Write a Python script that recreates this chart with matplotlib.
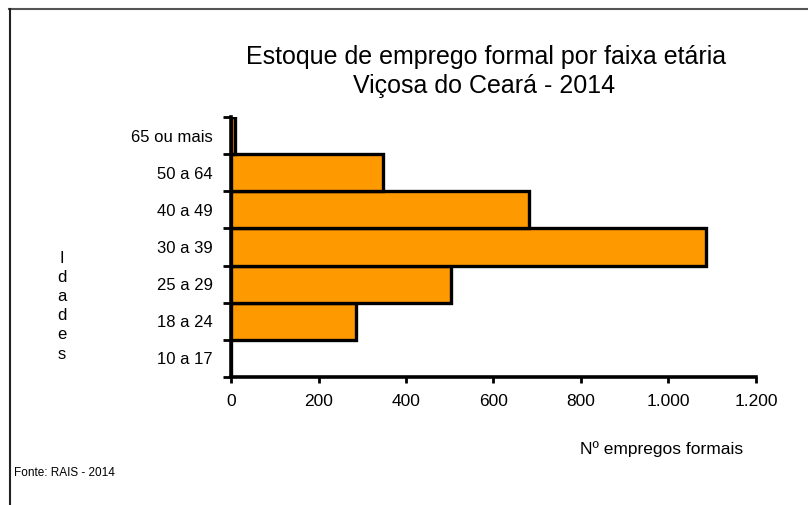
import matplotlib.pyplot as plt
import matplotlib.transforms as mtransforms
from matplotlib.lines import Line2D
from matplotlib.ticker import FuncFormatter, FixedLocator

# dados (RAIS 2014)
faixas = ["10 a 17", "18 a 24", "25 a 29", "30 a 39", "40 a 49", "50 a 64", "65 ou mais"]
empregos = [0, 286, 503, 1086, 682, 347, 8]
x_ticks = [0, 200, 400, 600, 800, 1000, 1200]

plt.rcParams['font.family'] = ['Liberation Sans', 'DejaVu Sans']

fig = plt.figure(figsize=(8.08, 5.05), dpi=100)
ax = fig.add_axes([0.2859, 0.2535, 0.6497, 0.5148])

pos = list(range(len(faixas)))

# fundo laranja levemente deslocado (efeito do grafico original)
shift = mtransforms.offset_copy(ax.transData, fig=fig, x=1.5, y=-1.5, units='dots')
ax.barh(pos, empregos, height=1.0, color='#FF9900', edgecolor='none', transform=shift, zorder=2)
ax.barh(pos, empregos, height=1.0, color='#FF9900', edgecolor='black', linewidth=2.4, zorder=3)

ax.set_xlim(0, 1200)
ax.set_ylim(-0.5, len(faixas) - 0.5)

for s in ['top', 'right']:
    ax.spines[s].set_visible(False)
for s in ['left', 'bottom']:
    ax.spines[s].set_linewidth(2.6)
    ax.spines[s].set_color('black')
    ax.spines[s].set_zorder(4)

ax.xaxis.set_major_locator(FixedLocator(x_ticks))
ax.xaxis.set_major_formatter(FuncFormatter(lambda v, p: f"{int(v):,}".replace(",", ".")))
ax.tick_params(axis='x', length=4, width=2, pad=8, labelsize=12.5)

# ticks nas fronteiras, rotulos no centro
ax.yaxis.set_major_locator(FixedLocator([i - 0.5 for i in range(len(faixas) + 1)]))
ax.yaxis.set_major_formatter(FuncFormatter(lambda v, p: ""))
ax.yaxis.set_minor_locator(FixedLocator(pos))
ax.set_yticklabels(faixas, minor=True)
ax.tick_params(axis='y', which='major', length=6, width=2)
ax.tick_params(axis='y', which='minor', length=0, pad=13, labelsize=12)

fig.text(0.601, 0.887, "Estoque de emprego formal por faixa etária", ha='center', va='center', fontsize=18)
fig.text(0.599, 0.830, "Viçosa do Ceará - 2014", ha='center', va='center', fontsize=18)

fig.text(0.819, 0.111, "Nº empregos formais", ha='center', va='center', fontsize=12.5)
fig.text(0.077, 0.394, "I\nd\na\nd\ne\ns", ha='center', va='center', fontsize=12, linespacing=1.35)
fig.text(0.017, 0.063, "Fonte: RAIS - 2014", ha='left', va='center', fontsize=8.5)

# moldura do grafico (cortada na imagem original)
fig.add_artist(Line2D([0.011, 1.0], [0.982, 0.982], transform=fig.transFigure, color='#555555', lw=1.5))
fig.add_artist(Line2D([0.012, 0.012], [0.0, 0.982], transform=fig.transFigure, color='#222222', lw=1.5))

fig.savefig("out.png", dpi=100)
